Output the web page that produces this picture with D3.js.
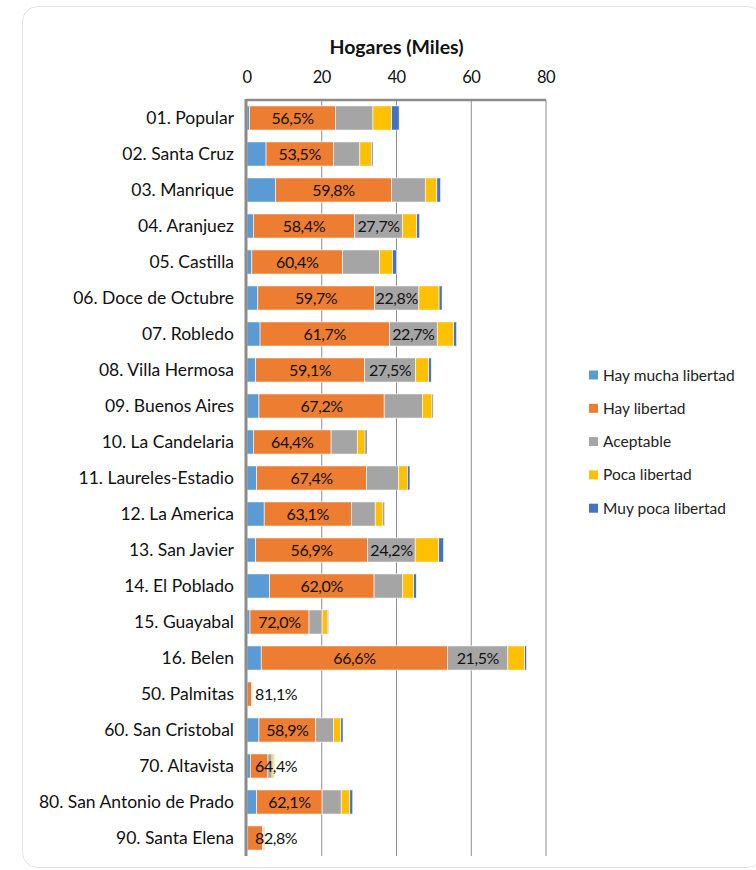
<!DOCTYPE html>
<html>
<head>
  <meta charset="UTF-8">
  <title>Hogares (Miles)</title>
  <style>
    body {
      margin: 0;
      background: #fff;
      font-family: Lato, "Liberation Sans", sans-serif;
    }
    .cat text { font-size: 17.5px; fill: #111; }
    .tick-label { font-size: 16.5px; fill: #111; letter-spacing: -0.5px; }
    .bar-label { font-size: 16px; fill: #111; letter-spacing: -0.4px; }
    .legend text { font-size: 15.5px; fill: #222; }
  </style>
</head>
<body>

<svg id="chart"></svg>

<script src="https://d3js.org/d3.v7.min.js"></script>
<script>
const categories = [
  "01. Popular", "02. Santa Cruz", "03. Manrique", "04. Aranjuez", "05. Castilla",
  "06. Doce de Octubre", "07. Robledo", "08. Villa Hermosa", "09. Buenos Aires",
  "10. La Candelaria", "11. Laureles-Estadio", "12. La America", "13. San Javier",
  "14. El Poblado", "15. Guayabal", "16. Belen", "50. Palmitas", "60. San Cristobal",
  "70. Altavista", "80. San Antonio de Prado", "90. Santa Elena"
];

const seriesNames = ["Hay mucha libertad", "Hay libertad", "Aceptable", "Poca libertad", "Muy poca libertad"];

// thousands of households per category
const hayMuchaLibertad = [0.7, 5.1, 7.6, 1.7, 1.3, 2.9, 3.5, 2.3, 3.2, 1.7, 2.6, 4.6, 2.3, 6.0, 0.8, 3.8, 0.05, 3.2, 0.9, 2.6, 0.2];
const hayLibertad      = [23.0, 18.0, 31.1, 27.1, 24.3, 31.2, 34.6, 29.2, 33.5, 20.8, 29.4, 23.3, 30.0, 28.0, 15.8, 49.9, 1.2, 15.2, 4.7, 17.5, 4.0];
const aceptable        = [10.0, 7.1, 9.0, 12.8, 9.9, 11.9, 12.8, 13.6, 10.2, 7.0, 8.6, 6.4, 12.7, 7.7, 3.5, 16.1, 0.2, 4.7, 1.1, 5.1, 0.3];
const pocaLibertad     = [5.0, 3.1, 3.1, 3.8, 3.4, 5.4, 4.4, 3.5, 2.6, 2.1, 2.3, 2.1, 6.3, 2.9, 1.4, 4.5, 0.05, 2.0, 0.5, 2.3, 0.3];
const muyPocaLibertad  = [2.0, 0.4, 1.0, 0.8, 1.1, 0.8, 0.8, 0.7, 0.3, 0.5, 0.7, 0.4, 1.3, 0.7, 0.3, 0.5, 0.0, 0.6, 0.1, 0.8, 0.03];

// data labels shown on the chart (percent of the row total)
const hayLibertadPct = [56.5, 53.5, 59.8, 58.4, 60.4, 59.7, 61.7, 59.1, 67.2, 64.4, 67.4, 63.1, 56.9, 62.0, 72.0, 66.6, 81.1, 58.9, 64.4, 62.1, 82.8];
const aceptablePct   = [null, null, null, 27.7, null, 22.8, 22.7, 27.5, null, null, null, null, 24.2, null, null, 21.5, null, null, null, null, null];

const xTicks = [0, 20, 40, 60, 80];
const colors = ["#5B9BD5", "#ED7D31", "#A5A5A5", "#FFC000", "#4472C4"];

const width = 756, height = 870;
const margin = { top: 100, right: 210, bottom: 14, left: 247 };

const svg = d3.select("#chart")
  .attr("width", width)
  .attr("height", height);

// chart area frame
svg.append("rect")
  .attr("x", 22.5).attr("y", 6.5)
  .attr("width", 740).attr("height", 861)
  .attr("rx", 15)
  .attr("fill", "#fff")
  .attr("stroke", "#e4e4e4");

const rows = categories.map((c, i) => ({
  name: c,
  "Hay mucha libertad": hayMuchaLibertad[i],
  "Hay libertad": hayLibertad[i],
  "Aceptable": aceptable[i],
  "Poca libertad": pocaLibertad[i],
  "Muy poca libertad": muyPocaLibertad[i]
}));

const stacked = d3.stack().keys(seriesNames)(rows);

const x = d3.scaleLinear().domain([0, 80]).range([margin.left, 546]);
const y = d3.scaleBand().domain(categories)
  .range([margin.top, height - margin.bottom])
  .paddingInner(0.33).paddingOuter(0.165);

// gridlines
svg.append("g")
  .selectAll("line")
  .data(xTicks.slice(1))
  .join("line")
  .attr("x1", d => x(d)).attr("x2", d => x(d))
  .attr("y1", margin.top).attr("y2", height - margin.bottom)
  .attr("stroke", "#8c8c8c")
  .attr("stroke-width", 1);

// bars
const series = svg.append("g")
  .selectAll("g")
  .data(stacked)
  .join("g")
  .attr("fill", (d, i) => colors[i]);

series.selectAll("rect")
  .data(d => d)
  .join("rect")
  .attr("x", d => x(d[0]))
  .attr("y", d => y(d.data.name))
  .attr("width", d => Math.max(0, x(d[1]) - x(d[0])))
  .attr("height", y.bandwidth())
  .attr("stroke", "#fff")
  .attr("stroke-width", 0.6);

// axis lines
svg.append("line")
  .attr("x1", x(0) - 1).attr("x2", x(80))
  .attr("y1", margin.top).attr("y2", margin.top)
  .attr("stroke", "#8c8c8c").attr("stroke-width", 2.5);
svg.append("line")
  .attr("x1", x(0) - 1).attr("x2", x(0) - 1)
  .attr("y1", margin.top - 1).attr("y2", height - margin.bottom)
  .attr("stroke", "#8c8c8c").attr("stroke-width", 3);

// data labels
const fmt = v => d3.format(".1f")(v).replace(".", ",") + "%";
const orangeSeries = stacked[1];
svg.append("g").selectAll("text")
  .data(orangeSeries)
  .join("text")
  .attr("class", "bar-label")
  .attr("dy", "0.36em")
  .attr("y", d => y(d.data.name) + y.bandwidth() / 2)
  .each(function(d, i) {
    const w = x(d[1]) - x(d[0]);
    const t = d3.select(this);
    if (w < 46) {
      t.attr("x", x(0) + 8).attr("text-anchor", "start");
    } else {
      t.attr("x", (x(d[0]) + x(d[1])) / 2).attr("text-anchor", "middle");
    }
  })
  .text((d, i) => fmt(hayLibertadPct[i]));

const graySeries = stacked[2];
svg.append("g").selectAll("text")
  .data(graySeries.filter((d, i) => aceptablePct[i] != null))
  .join("text")
  .attr("class", "bar-label")
  .attr("dy", "0.36em")
  .attr("text-anchor", "middle")
  .attr("x", d => (x(d[0]) + x(d[1])) / 2)
  .attr("y", d => y(d.data.name) + y.bandwidth() / 2)
  .text(d => fmt(aceptablePct[categories.indexOf(d.data.name)]));

// category labels
svg.append("g").attr("class", "cat")
  .selectAll("text")
  .data(categories)
  .join("text")
  .attr("x", 234)
  .attr("y", d => y(d) + y.bandwidth() / 2)
  .attr("dy", "0.36em")
  .attr("text-anchor", "end")
  .text(d => d);

// top tick labels
svg.append("g")
  .selectAll("text")
  .data(xTicks)
  .join("text")
  .attr("class", "tick-label")
  .attr("x", d => x(d))
  .attr("y", 83)
  .attr("text-anchor", "middle")
  .text(d => d);

// title
svg.append("text")
  .attr("x", x(40))
  .attr("y", 54)
  .attr("text-anchor", "middle")
  .style("font-size", "19.5px")
  .style("font-weight", "bold")
  .style("fill", "#111")
  .text("Hogares (Miles)");

// legend
const legend = svg.append("g").attr("class", "legend")
  .selectAll("g")
  .data(seriesNames)
  .join("g")
  .attr("transform", (d, i) => `translate(589, ${375 + i * 33.3})`);

legend.append("rect")
  .attr("x", 0).attr("y", -4.5)
  .attr("width", 9).attr("height", 9)
  .attr("fill", (d, i) => colors[i]);

legend.append("text")
  .attr("x", 14)
  .attr("dy", "0.36em")
  .text(d => d);
</script>

</body>
</html>
